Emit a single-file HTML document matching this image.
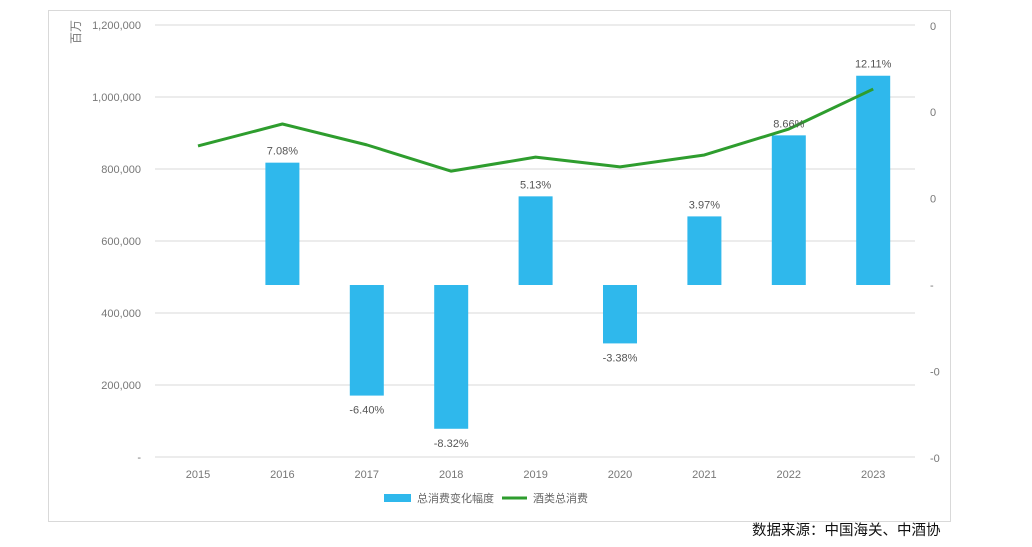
<!DOCTYPE html>
<html><head><meta charset="utf-8"><style>
body{margin:0;background:#fff;width:1032px;height:542px;overflow:hidden;font-family:"Liberation Sans","Noto Sans CJK SC",sans-serif}
svg text{font-family:"Liberation Sans","Noto Sans CJK SC",sans-serif}
</style></head><body>
<svg width="1032" height="542">
<rect x="48.5" y="10.5" width="902" height="511" fill="#fff" stroke="#d9d9d9"/>
<g id="grid"></g><g id="bars"></g><g id="line"></g><g id="labels"></g>
<text x="80" y="44" font-size="12" fill="#777" transform="rotate(-90 80 44)">百万</text>
<g>
<rect x="384" y="494" width="27" height="8" fill="#2fb8ec"/>
<text x="417" y="502" font-size="11" fill="#666">总消费变化幅度</text>
<line x1="502" y1="498" x2="527" y2="498" stroke="#2e9d2e" stroke-width="3"/>
<text x="533" y="502" font-size="11" fill="#666">酒类总消费</text>
</g>
<text x="752" y="535" font-size="14.5" fill="#111">数据来源：中国海关、中酒协</text>
</svg>
<script>
const years=["2015","2016","2017","2018","2019","2020","2021","2022","2023"];
const changes=[null,7.08,-6.40,-8.32,5.13,-3.38,3.97,8.66,12.11];
const totals=[864000,925000,867000,794000,833000,806000,839000,911000,1022000];
const leftTicks=[0,200000,400000,600000,800000,1000000,1200000];
const leftTickLabels=["-","200,000","400,000","600,000","800,000","1,000,000","1,200,000"];
const rightTicks=[-10,-5,0,5,10,15];
const rightTickLabels=["-0","-0","-","0","0","0"];
const NS="http://www.w3.org/2000/svg";
const yL=v=>457-v*0.00036;
const yR=p=>285-p*17.28;
const xC=i=>198+i*84.4;
function mk(t,a,p){const e=document.createElementNS(NS,t);for(const k in a)e.setAttribute(k,a[k]);document.getElementById(p).appendChild(e);return e;}
leftTicks.forEach((v,i)=>{
 const g=mk('line',{x1:155,x2:915,y1:yL(v),y2:yL(v),stroke:'#e0e0e0','stroke-width':1.3},'grid');
 
 
 const t=mk('text',{x:141,y:yL(v)+4,'text-anchor':'end','font-size':11,fill:'#777'},'labels');
 t.textContent=leftTickLabels[i];
 
 
});
rightTicks.forEach((v,i)=>{
 const t=mk('text',{x:930,y:yR(v)+4,'font-size':11,fill:'#777'},'labels');
 t.textContent=rightTickLabels[i];
 
 
});
years.forEach((y,i)=>{
 const t=mk('text',{x:xC(i),y:478,'text-anchor':'middle','font-size':11,fill:'#777'},'labels');
 t.textContent=y;
 
 
 const c=changes[i];
 if(c===null)return;
 const top=Math.min(yR(c),yR(0)),h=Math.abs(yR(c)-yR(0));
 const b=mk('rect',{x:xC(i)-17,y:top,width:34,height:h,fill:'#2fb8ec'},'bars');
 
 
 const l=mk('text',{x:xC(i),y:c>=0?yR(c)-8:yR(c)+18,'text-anchor':'middle','font-size':11,fill:'#555'},'labels');
 l.textContent=c.toFixed(2)+'%';
 
 
});
const pl=mk('polyline',{points:totals.map((v,i)=>xC(i)+','+yL(v)).join(' '),fill:'none',stroke:'#2e9d2e','stroke-width':3,'stroke-linejoin':'round'},'line');


</script>
</body></html>
